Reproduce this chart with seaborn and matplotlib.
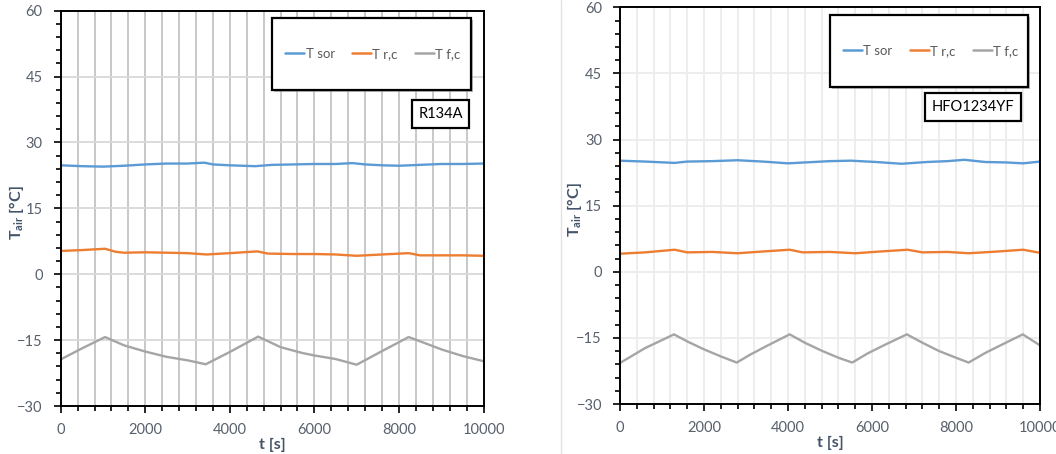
import numpy as np
import pandas as pd
import matplotlib
matplotlib.use("Agg")
import matplotlib.pyplot as plt
import seaborn as sns
from matplotlib.patches import Rectangle
from matplotlib.lines import Line2D
from matplotlib.ticker import MultipleLocator

# ---------------- data ----------------
series_names = ["T sor", "T r,c", "T f,c"]
colors = ["#5B9BD5", "#ED7D31", "#A5A5A5"]

# R134A panel
r134_t_sor = [0, 500, 1000, 1500, 2000, 2500, 3000, 3400, 3600, 4000, 4600, 5000,
              5500, 6000, 6500, 6900, 7200, 7600, 8000, 8500, 9000, 9500, 10000]
r134_sor = [24.8, 24.6, 24.5, 24.7, 25.0, 25.2, 25.2, 25.4, 25.0, 24.8, 24.6, 24.9,
            25.0, 25.1, 25.1, 25.3, 25.0, 24.8, 24.7, 24.9, 25.1, 25.1, 25.2]
r134_t_rc = [0, 500, 1050, 1300, 1500, 2000, 2500, 3000, 3450, 4000, 4650, 4900,
             5500, 6000, 6500, 7000, 7600, 8230, 8500, 9000, 9500, 10000]
r134_rc = [5.3, 5.5, 5.8, 5.1, 4.9, 5.0, 4.9, 4.8, 4.5, 4.8, 5.2, 4.7,
           4.6, 4.6, 4.5, 4.2, 4.5, 4.8, 4.3, 4.3, 4.3, 4.2]
r134_t_fc = [0, 500, 1050, 1500, 2000, 2500, 3000, 3430, 4000, 4670, 5200, 5700,
             6000, 6500, 7000, 7600, 8230, 8700, 9000, 9500, 10000]
r134_fc = [-19.4, -16.9, -14.3, -16.2, -17.6, -18.8, -19.6, -20.5, -17.7, -14.2, -16.6, -17.9,
           -18.5, -19.3, -20.6, -17.5, -14.3, -16.0, -17.1, -18.6, -19.8]

# HFO1234YF panel
hfo_t_sor = [0, 600, 1300, 1600, 2200, 2800, 3400, 4000, 4600, 5000, 5500, 6100,
             6700, 7300, 7800, 8200, 8700, 9200, 9600, 10000]
hfo_sor = [25.2, 25.0, 24.7, 25.0, 25.1, 25.3, 25.0, 24.6, 24.9, 25.1, 25.2, 24.9,
           24.5, 24.9, 25.1, 25.4, 24.9, 24.8, 24.6, 25.0]
hfo_t_rc = [0, 600, 1300, 1600, 2200, 2800, 3400, 4040, 4350, 5000, 5600, 6200,
            6850, 7200, 7800, 8300, 9000, 9600, 10000]
hfo_rc = [4.1, 4.4, 5.0, 4.4, 4.5, 4.2, 4.6, 5.0, 4.4, 4.5, 4.2, 4.6,
          5.0, 4.4, 4.5, 4.2, 4.6, 5.0, 4.3]
hfo_t_fc = [0, 300, 600, 1000, 1285, 1600, 2000, 2400, 2780, 3100, 3500, 4040, 4400,
            4800, 5200, 5530, 5900, 6300, 6830, 7200, 7600, 8000, 8300, 8700, 9100, 9590, 10000]
hfo_fc = [-20.7, -19.0, -17.3, -15.5, -14.2, -15.8, -17.6, -19.2, -20.6, -18.8, -16.8, -14.2, -16.1,
          -17.9, -19.5, -20.6, -18.5, -16.6, -14.2, -16.1, -18.0, -19.5, -20.6, -18.4, -16.5, -14.2, -16.7]

panel_labels = ["R134A", "HFO1234YF"]
x_ticks = [0, 2000, 4000, 6000, 8000, 10000]
y_ticks = [-30, -15, 0, 15, 30, 45, 60]


def long_df(ts, vs):
    frames = []
    for name, t, v in zip(series_names, ts, vs):
        frames.append(pd.DataFrame({"t": t, "T": v, "series": name}))
    return pd.concat(frames, ignore_index=True)


df_r134 = long_df([r134_t_sor, r134_t_rc, r134_t_fc], [r134_sor, r134_rc, r134_fc])
df_hfo = long_df([hfo_t_sor, hfo_t_rc, hfo_t_fc], [hfo_sor, hfo_rc, hfo_fc])

# ---------------- style ----------------
sns.set_style("white")
plt.rcParams["font.family"] = ["Lato", "DejaVu Sans"]

tick_color = "#58606c"
label_color = "#44546A"
W, H = 1056, 454

fig = plt.figure(figsize=(10.56, 4.54), dpi=100)
ax1 = fig.add_axes([60.7 / W, 1 - 406 / H, (483.5 - 60.7) / W, (406 - 10.7) / H])
ax2 = fig.add_axes([620 / W, 1 - 404 / H, 420 / W, (404 - 7.3) / H])

# separator line
fig.add_artist(Line2D([561 / W, 561 / W], [0, 1], transform=fig.transFigure,
                      color="#e3e3e3", lw=1))

palette = dict(zip(series_names, colors))

configs = [
    (ax1, df_r134, panel_labels[0], "#c4c4c4", "#d9d9d9",
     (272, 18, 471, 90), (411, 101, 470, 127), 17, 445),
    (ax2, df_hfo, panel_labels[1], "#ececec", "#ececec",
     (830, 15, 1028, 87), (927, 94, 1019, 120), 575, 443),
]

for ax, df, lab, vgrid, hgrid, legbox, labbox, ylab_x, xlab_y in configs:
    sns.lineplot(data=df, x="t", y="T", hue="series", palette=palette,
                 hue_order=series_names, ax=ax, lw=1.7, legend=False,
                 estimator=None, sort=False)
    ax.set_xlim(0, 10000)
    ax.set_ylim(-30, 60)
    ax.set_xticks(x_ticks)
    ax.set_yticks(y_ticks)
    ax.xaxis.set_minor_locator(MultipleLocator(400))
    ax.yaxis.set_minor_locator(MultipleLocator(3))
    # grid lines
    for xv in np.arange(400, 10000, 400):
        ax.axvline(xv, color=vgrid, lw=1.3, zorder=0)
    for yv in y_ticks[1:-1]:
        ax.axhline(yv, color=hgrid, lw=1.3, zorder=0)
    for sp in ax.spines.values():
        sp.set_color("black")
        sp.set_linewidth(1.4)
        sp.set_visible(True)
    ax.tick_params(axis="both", which="major", direction="out", length=5, width=1.2,
                   colors="black", labelcolor=tick_color, labelsize=10.5,
                   bottom=True, left=True)
    ax.tick_params(axis="x", which="major", pad=7)
    ax.tick_params(axis="y", which="major", pad=8)
    ax.tick_params(axis="both", which="minor", direction="out", length=3.5, width=1.2,
                   colors="black", bottom=True, left=True)
    ax.set_xlabel("t [s]", fontsize=11.5, fontweight="bold", color=label_color)
    ax.set_ylabel(r"T$_{\mathregular{air}}$ [°C]", fontsize=11.5, fontweight="bold",
                  color=label_color)
    bb = ax.get_position()
    ax.yaxis.set_label_coords((ylab_x / W - bb.x0) / bb.width, 0.49)
    ax.xaxis.set_label_coords(0.5, ((1 - xlab_y / H) - bb.y0) / bb.height)
    ax.xaxis.label.set_va("center")
    ax.yaxis.label.set_va("center")

    # legend box (pixel coords -> figure fraction)
    x0, y0, x1, y1 = legbox
    shadow = Rectangle(((x0 + 2) / W, 1 - (y1 + 2) / H), (x1 - x0) / W, (y1 - y0) / H,
                       transform=fig.transFigure, facecolor="#8c8c8c", edgecolor="none",
                       zorder=4, alpha=0.6)
    box = Rectangle((x0 / W, 1 - y1 / H), (x1 - x0) / W, (y1 - y0) / H,
                    transform=fig.transFigure, facecolor="white", edgecolor="black",
                    lw=1.6, zorder=5)
    fig.add_artist(shadow)
    fig.add_artist(box)
    handles = [Line2D([0], [0], color=c, lw=1.8) for c in colors]
    fig.legend(handles, series_names, loc="center",
               bbox_to_anchor=((x0 + x1) / 2 / W + 1.5 / W, 1 - (y0 + y1) / 2 / H),
               ncol=3, frameon=False, fontsize=9.5, handlelength=1.45,
               handletextpad=0.1, columnspacing=1.3, labelcolor="#595959")

    # refrigerant label box
    lx0, ly0, lx1, ly1 = labbox
    fig.text((lx0 + lx1) / 2 / W, 1 - (ly0 + ly1) / 2 / H, lab, ha="center", va="center",
             fontsize=10.5, color="black", zorder=7,
             bbox=dict(boxstyle="square,pad=0.45", facecolor="white", edgecolor="black",
                       lw=1.6))

fig.savefig("out.png", dpi=100)
